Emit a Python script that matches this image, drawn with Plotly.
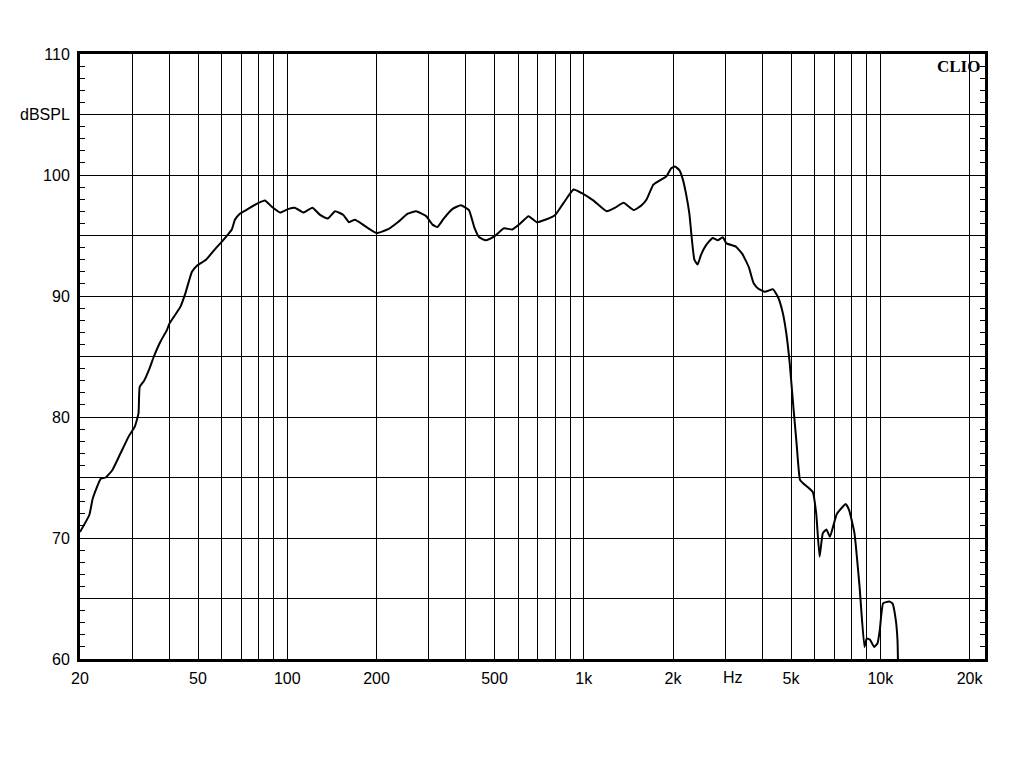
import plotly.graph_objects as go
import math

freq = [20, 21.5, 22.1, 23.5, 24.4, 25.7, 27.4, 29.2, 30.6, 31.5, 31.8, 32.9, 34.3, 35.5, 37.3,
        39.3, 40.0, 43.6, 45.3, 47.7, 49.6, 53.2, 57.2, 60.2, 65.0, 66.6, 69.2, 73.8, 80, 84.1,
        88.5, 94.6, 101, 106, 113.5, 121.5, 129, 137, 145, 154.5, 161.5, 169, 180, 190, 200,
        218, 236, 255, 272, 294, 309, 321, 337, 361, 385, 410, 427, 444, 467, 498, 538, 574,
        611, 651, 694, 741, 801, 855, 924, 985, 1076, 1194, 1276, 1362, 1474, 1567, 1630, 1716,
        1817, 1900, 1972, 2030, 2100, 2154, 2210, 2270, 2310, 2360, 2420, 2485, 2585, 2720,
        2830, 2940, 3030, 3250, 3420, 3600, 3740, 3880, 4080, 4350, 4520, 4690, 4820, 4950,
        5090, 5220, 5360, 5500, 5700, 5920, 6080, 6240, 6400, 6580, 6760, 7140, 7650, 7850,
        8180, 8510, 8840, 9000, 9230, 9530, 9790, 9960, 10220, 10710, 10990, 11280, 11430, 11500]
spl = [70.5, 71.9, 73.3, 74.9, 75.0, 75.6, 77.0, 78.4, 79.2, 80.3, 82.5, 83.0, 84.0, 85.0, 86.2,
       87.2, 87.7, 89.1, 90.2, 92.0, 92.5, 93.0, 93.9, 94.5, 95.5, 96.3, 96.8, 97.2, 97.7, 97.9,
       97.4, 96.9, 97.2, 97.3, 96.9, 97.3, 96.7, 96.4, 97.0, 96.7, 96.1, 96.3, 95.9, 95.5, 95.2,
       95.5, 96.1, 96.8, 97.0, 96.6, 95.9, 95.7, 96.4, 97.2, 97.5, 97.1, 95.7, 94.85, 94.6, 94.9,
       95.6, 95.5, 96.0, 96.6, 96.1, 96.3, 96.7, 97.7, 98.8, 98.5, 97.9, 97.0, 97.3, 97.7, 97.1,
       97.5, 98.0, 99.2, 99.6, 99.9, 100.55, 100.7, 100.4, 99.7, 98.5, 96.8, 94.9, 93.0, 92.6,
       93.4, 94.2, 94.8, 94.6, 94.85, 94.35, 94.1, 93.5, 92.4, 91.05, 90.6, 90.35, 90.55, 89.9,
       88.6, 86.9, 84.4, 80.85, 77.8, 74.8, 74.5, 74.2, 73.8, 72.0, 68.45, 70.4, 70.7, 70.1,
       72.0, 72.8, 72.3, 70.4, 66.0, 61.0, 61.7, 61.6, 61.0, 61.3, 62.4, 64.6, 64.75, 64.6,
       63.2, 61.5, 58.0]

x_grid = [20, 30, 40, 50, 60, 70, 80, 90, 100, 200, 300, 400, 500, 600, 700, 800, 900,
          1000, 2000, 3000, 4000, 5000, 6000, 7000, 8000, 9000, 10000, 20000]
x_labels = {20: "20", 50: "50", 100: "100", 200: "200", 500: "500", 1000: "1k", 2000: "2k",
            5000: "5k", 10000: "10k", 20000: "20k"}
x_unit = "Hz"
x_unit_pos = 3190
y_grid = [60, 65, 70, 75, 80, 85, 90, 95, 100, 105, 110]
y_labels = {60: "60", 70: "70", 80: "80", 90: "90", 100: "100", 105: "dBSPL", 110: "110"}
y_minor = list(range(60, 111))

fig = go.Figure()
fig.add_trace(go.Scatter(x=freq, y=spl, mode="lines",
                         line=dict(color="black", width=2, shape="spline", smoothing=0.4),
                         hoverinfo="skip", showlegend=False))

fig.update_layout(
    width=1024, height=768,
    margin=dict(l=69, r=47, t=46, b=117),
    paper_bgcolor="white", plot_bgcolor="white",
    font=dict(family="Liberation Sans, Arial, sans-serif", size=16, color="black"),
    xaxis=dict(type="log", range=[math.log10(20), math.log10(20) + 3.052],
               tickmode="array", tickvals=x_grid,
               ticktext=[x_labels.get(v, "") for v in x_grid],
               showgrid=True, gridcolor="black", gridwidth=1,
               showline=True, linecolor="black", linewidth=3, mirror=True,
               ticks="", ticklabelstandoff=3, zeroline=False, fixedrange=True),
    yaxis=dict(range=[60, 110], tickmode="array", tickvals=y_grid,
               ticktext=[y_labels.get(v, "") for v in y_grid],
               showgrid=True, gridcolor="black", gridwidth=1,
               showline=True, linecolor="black", linewidth=3, mirror="ticks",
               ticks="inside", ticklen=5, tickcolor="black", tickwidth=1,
               ticklabelstandoff=4,
               minor=dict(tickmode="array", tickvals=y_minor, ticks="inside", ticklen=5,
                          tickcolor="black", tickwidth=1, showgrid=False),
               zeroline=False, fixedrange=True),
    annotations=[
        dict(text="<b>CLIO</b>", xref="paper", yref="paper", x=0.997, y=0.998,
             xanchor="right", yanchor="top", showarrow=False,
             font=dict(family="Liberation Serif, Times New Roman, serif", size=17,
                       color="black")),
        dict(text=x_unit, xref="x", yref="paper", x=math.log10(x_unit_pos), y=0,
             xanchor="center", yanchor="top", yshift=-8, showarrow=False,
             font=dict(family="Liberation Sans, Arial, sans-serif", size=16, color="black")),
    ],
)

fig.write_html("out.html")
